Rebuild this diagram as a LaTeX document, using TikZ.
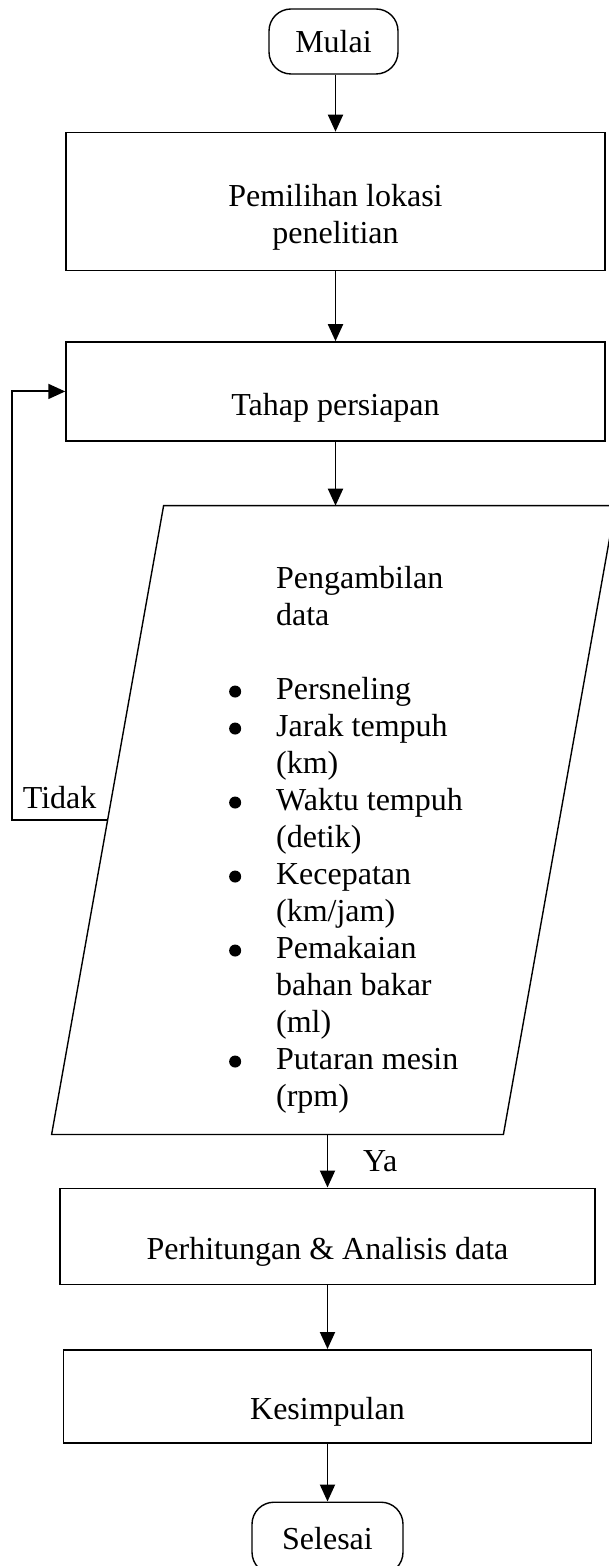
\documentclass[tikz,border=0pt]{standalone}
\usepackage{fontspec}
\setmainfont{Liberation Serif}
\usepackage{tikz}
\usetikzlibrary{positioning, arrows.meta, calc}

\newcommand{\tdrop}[1]{\rule{0pt}{#1}}
\newcommand{\dotmark}{\tikz[baseline=-4pt]\fill (0,0) circle (3pt);}

\begin{document}
\begin{tikzpicture}[
        font=\fontsize{16pt}{18.5pt}\selectfont,
        % Define block styles
        terminal/.style={draw, rectangle, rounded corners=11pt, line width=0.7pt, text centered},
        process/.style={draw, rectangle, line width=0.75pt, minimum width=269.5pt, text centered},
        databox/.style={rectangle, minimum width=225.5pt, minimum height=314pt},
        outline/.style={draw, line width=0.7pt},
        arrow/.style={draw, line width=0.95pt, -{Triangle[length=8.5pt, width=7.5pt]}}
    ]

    \useasboundingbox (0,0) rectangle (304.5pt,-783pt);

    % --- Nodes Placement ---
    \node[terminal, minimum width=64.5pt, minimum height=32.5pt] (mulai) at (166.75pt,-20.75pt) {Mulai};

    \node[process, minimum height=69pt, below=28.5pt of mulai, xshift=1pt, align=center] (lokasi) {\tdrop{27pt}Pemilihan lokasi\\penelitian};

    \node[process, minimum height=49.5pt, below=35pt of lokasi] (persiapan) {\tdrop{27pt}Tahap persiapan};

    % Data input block (text only, the slanted outline is drawn below)
    \node[databox, below=32pt of persiapan, xshift=-1pt] (ambil) {
        \begin{tabular}{@{}p{23.5pt}@{}l@{\hspace{-12.5pt}}}
         & \tdrop{33pt}Pengambilan \\
         & data \\
         & \\
        \dotmark & Persneling \\
        \dotmark & Jarak tempuh \\
         & (km) \\
        \dotmark & Waktu tempuh \\
         & (detik) \\
        \dotmark & Kecepatan \\
         & (km/jam) \\
        \dotmark & Pemakaian \\
         & bahan bakar \\
         & (ml) \\
        \dotmark & Putaran mesin \\
         & (rpm)
        \end{tabular}
    };
    \draw[outline] ([xshift=28pt]ambil.north west) -- ([xshift=28pt]ambil.north east)
        -- ([xshift=-28pt]ambil.south east) -- ([xshift=-28pt]ambil.south west) -- cycle;

    \node[process, minimum width=267.5pt, minimum height=48pt, below=26.5pt of ambil, xshift=-3pt] (hitung) {\tdrop{27pt}Perhitungan \& Analisis data};

    \node[process, minimum width=264pt, minimum height=46.5pt, below=32pt of hitung] (simpulan) {\tdrop{27pt}Kesimpulan};

    \node[terminal, minimum width=75.5pt, minimum height=36pt, below=29pt of simpulan] (selesai) {Selesai};

    % --- Connections / Arrows ---
    \draw[arrow] (lokasi.north |- mulai.south) -- (lokasi.north);
    \draw[arrow] (lokasi) -- (persiapan);
    \draw[arrow] (persiapan.south) -- (persiapan.south |- ambil.north);
    \draw[arrow] (ambil.south -| hitung.north) -- node[right=14pt] {Ya} (hitung.north);
    \draw[arrow] (hitung) -- (simpulan);
    \draw[arrow] (simpulan) -- (selesai);

    % Loop back to the preparation step
    \draw[arrow] (ambil.west) -- node[above=2pt] {Tidak} ++(-48pt,0) |- (persiapan.west);

\end{tikzpicture}
\end{document}
